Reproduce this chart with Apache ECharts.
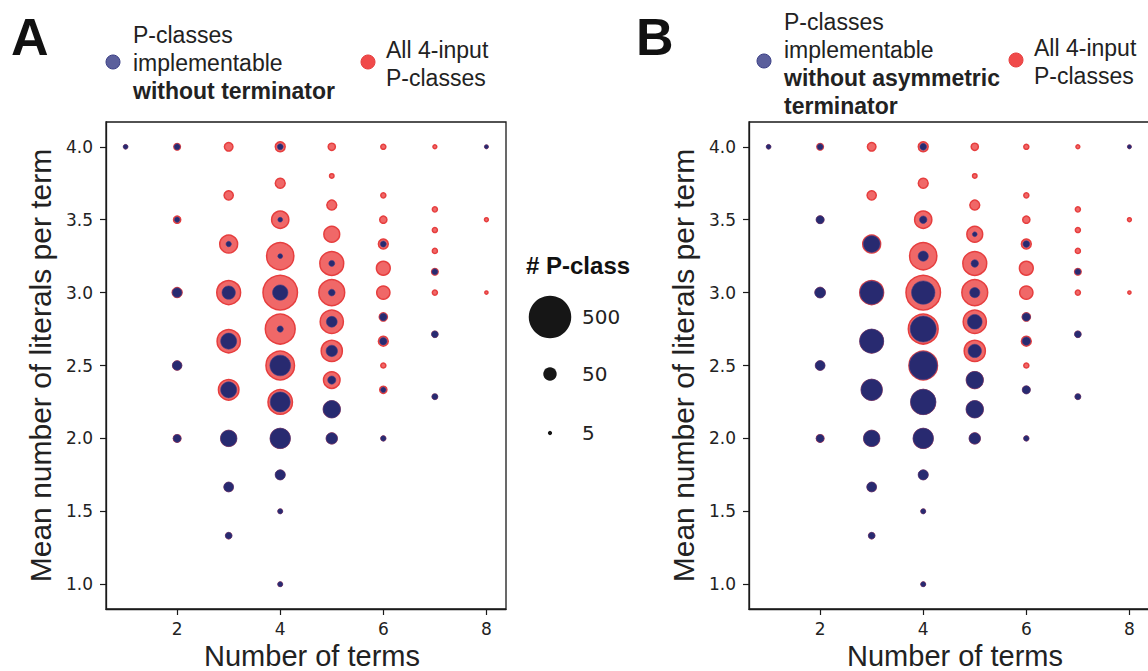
<!DOCTYPE html>
<html>
<head>
<meta charset="utf-8">
<script src="https://cdn.jsdelivr.net/npm/echarts@6/dist/echarts.min.js"></script>
<style>
  html, body { margin: 0; padding: 0; background: #fff; }
  #chart { width: 1148px; height: 671px; }
</style>
</head>
<body>
<div id="chart"></div>
<script>
// one entry per (number of terms, mean literals per term) cell
var terms = [1,
  2, 2, 2, 2, 2,
  3, 3, 3, 3, 3, 3, 3, 3, 3,
  4, 4, 4, 4, 4, 4, 4, 4, 4, 4, 4, 4,
  5, 5, 5, 5, 5, 5, 5, 5, 5, 5, 5,
  6, 6, 6, 6, 6, 6, 6, 6, 6, 6, 6,
  7, 7, 7, 7, 7, 7, 7, 7,
  8, 8, 8];
var meanLiterals = [4.0,
  4.0, 3.5, 3.0, 2.5, 2.0,
  4.0, 3.667, 3.333, 3.0, 2.667, 2.333, 2.0, 1.667, 1.333,
  4.0, 3.75, 3.5, 3.25, 3.0, 2.75, 2.5, 2.25, 2.0, 1.75, 1.5, 1.0,
  4.0, 3.8, 3.6, 3.4, 3.2, 3.0, 2.8, 2.6, 2.4, 2.2, 2.0,
  4.0, 3.667, 3.5, 3.333, 3.167, 3.0, 2.833, 2.667, 2.5, 2.333, 2.0,
  4.0, 3.571, 3.429, 3.286, 3.143, 3.0, 2.714, 2.286,
  4.0, 3.5, 3.0];
// all 4-input P-classes
var allClasses = [8,
  18, 21, 36, 30, 22,
  28, 32, 104, 178, 169, 134, 80, 30, 15,
  36, 36, 97, 228, 359, 272, 250, 187, 122, 32, 9, 9,
  21, 10, 36, 83, 178, 207, 169, 142, 90, 90, 40,
  12, 12, 21, 36, 65, 60, 26, 36, 12, 21, 10,
  8, 12, 12, 12, 18, 12, 15, 12,
  6, 8, 6];
// A: implementable without terminator
var implNoTerm = [8,
  12, 10, 28, 28, 20,
  0, 0, 10, 54, 77, 77, 80, 30, 15,
  12, 0, 8, 8, 71, 13, 126, 118, 122, 32, 9, 9,
  0, 0, 0, 0, 12, 15, 36, 40, 21, 90, 40,
  0, 0, 0, 12, 0, 0, 18, 18, 0, 10, 10,
  0, 0, 0, 0, 12, 0, 15, 12,
  6, 0, 0];
// B: implementable without asymmetric terminator
var implNoAsym = [8,
  12, 21, 36, 30, 20,
  0, 0, 83, 160, 169, 134, 80, 30, 15,
  15, 0, 18, 32, 160, 197, 228, 187, 122, 32, 9, 9,
  0, 0, 0, 8, 18, 32, 65, 54, 88, 90, 40,
  0, 0, 0, 15, 0, 0, 21, 22, 0, 21, 10,
  0, 0, 0, 0, 12, 0, 15, 12,
  6, 0, 0];

var xTicks = [2, 4, 6, 8];
var yTicks = [1.0, 1.5, 2.0, 2.5, 3.0, 3.5, 4.0];
var sizeLegend = [500, 50, 5];

var red = '#f06868', redEdge = '#e63e3e';
var navy = '#282a70', navyEdge = '#3d3f88';
var ink = '#1a1a1a';
var sans = '"Liberation Sans", Arial, sans-serif';
var dejavu = '"DejaVu Sans", sans-serif';

function sz(n) { return 1.9 * Math.sqrt(n); }

function pts(counts) {
  return terms.map(function(t, i) { return [t, meanLiterals[i], counts[i]]; })
    .filter(function(p) { return p[2] > 0; });
}

var chart = echarts.init(document.getElementById('chart'), null, { renderer: 'svg' });

function xAxisFor(idx, gap) {
  return {
    type: 'value', gridIndex: idx, min: 0.62, max: 8.38,
    name: 'Number of terms', nameLocation: 'middle', nameGap: gap,
    nameTextStyle: { fontFamily: sans, fontSize: 29, color: '#222', padding: [0, 0, 0, 12] },
    axisLine: { show: true, lineStyle: { color: ink, width: 1.3 } },
    axisTick: { show: true, length: 6, customValues: xTicks, lineStyle: { color: ink, width: 1.2 } },
    axisLabel: { customValues: xTicks, margin: 11, fontFamily: dejavu, fontSize: 17, color: '#222' },
    splitLine: { show: false }
  };
}
function yAxisFor(idx) {
  return {
    type: 'value', gridIndex: idx, min: 0.83, max: 4.17,
    name: 'Mean number of literals per term', nameLocation: 'middle', nameGap: 51,
    nameTextStyle: { fontFamily: sans, fontSize: 30, color: '#222' },
    axisLine: { show: true, lineStyle: { color: ink, width: 1.3 } },
    axisTick: { show: true, length: 6, customValues: yTicks, lineStyle: { color: ink, width: 1.2 } },
    axisLabel: {
      customValues: yTicks, margin: 13, fontFamily: dejavu, fontSize: 17, color: '#222',
      formatter: function(v) { return v.toFixed(1); }
    },
    splitLine: { show: false }
  };
}
function allSeries(idx) {
  return {
    type: 'scatter', xAxisIndex: idx, yAxisIndex: idx, data: pts(allClasses),
    symbolSize: function(v) { return sz(v[2]) - 1.5; },
    itemStyle: { color: red, borderColor: redEdge, borderWidth: 1.5, opacity: 1 },
    z: 2
  };
}
function implSeries(idx, counts) {
  return {
    type: 'scatter', xAxisIndex: idx, yAxisIndex: idx, data: pts(counts),
    symbolSize: function(v) { return sz(v[2]) - 0.6; },
    itemStyle: { color: navy, borderColor: navyEdge, borderWidth: 0.6, opacity: 1 },
    z: 3
  };
}

var legendFont = '23px ' + sans;
var boldRich = { b: { fontWeight: 'bold', fontSize: 23, fontFamily: sans, lineHeight: 28, fill: '#222' } };
var graphic = [
  { type: 'text', x: 11, y: 37, style: { text: 'A', font: 'bold 52px ' + sans, fill: '#111', verticalAlign: 'middle' } },
  { type: 'text', x: 636, y: 37, style: { text: 'B', font: 'bold 52px ' + sans, fill: '#111', verticalAlign: 'middle' } },
  // legend A
  { type: 'circle', shape: { cx: 113, cy: 62, r: 7 }, style: { fill: '#5b5f9c', stroke: '#3b3f86', lineWidth: 1 } },
  { type: 'text', x: 133, y: 21, style: {
      text: 'P-classes\nimplementable\n{b|without terminator}', font: legendFont, fill: '#222', lineHeight: 28,
      verticalAlign: 'top', rich: boldRich } },
  { type: 'circle', shape: { cx: 368, cy: 62, r: 7 }, style: { fill: '#f04a4a', stroke: '#e63e3e', lineWidth: 1 } },
  { type: 'text', x: 386, y: 36, style: { text: 'All 4-input\nP-classes', font: legendFont, fill: '#222', lineHeight: 28, verticalAlign: 'top' } },
  // legend B
  { type: 'circle', shape: { cx: 764, cy: 61, r: 7 }, style: { fill: '#5b5f9c', stroke: '#3b3f86', lineWidth: 1 } },
  { type: 'text', x: 784, y: 8, style: {
      text: 'P-classes\nimplementable\n{b|without asymmetric}\n{b|terminator}', font: legendFont, fill: '#222', lineHeight: 28,
      verticalAlign: 'top', rich: boldRich } },
  { type: 'circle', shape: { cx: 1016, cy: 60, r: 7 }, style: { fill: '#f04a4a', stroke: '#e63e3e', lineWidth: 1 } },
  { type: 'text', x: 1034, y: 34, style: { text: 'All 4-input\nP-classes', font: legendFont, fill: '#222', lineHeight: 28, verticalAlign: 'top' } },
  // size legend
  { type: 'text', x: 526, y: 265, style: { text: '# P-class', font: 'bold 24px ' + sans, fill: '#111', verticalAlign: 'middle' } }
];
var rowY = [317, 374, 433];
sizeLegend.forEach(function(n, i) {
  graphic.push({ type: 'circle', shape: { cx: 550, cy: rowY[i], r: sz(n) / 2 }, style: { fill: '#161616' } });
  graphic.push({ type: 'text', x: 582, y: rowY[i], style: { text: String(n), font: '20px ' + dejavu, fill: '#222', verticalAlign: 'middle' } });
});

chart.setOption({
  animation: false,
  backgroundColor: '#fff',
  grid: [
    { left: 106, top: 122, width: 400, height: 487, show: true, borderColor: ink, borderWidth: 1.3, outerBoundsMode: 'none', containLabel: false },
    { left: 749, top: 122, width: 400, height: 487, show: true, borderColor: ink, borderWidth: 1.3, outerBoundsMode: 'none', containLabel: false }
  ],
  xAxis: [xAxisFor(0, 27), xAxisFor(1, 28)],
  yAxis: [yAxisFor(0), yAxisFor(1)],
  series: [allSeries(0), implSeries(0, implNoTerm), allSeries(1), implSeries(1, implNoAsym)],
  graphic: graphic
});

window.addEventListener('resize', function() { chart.resize(); });
</script>
</body>
</html>
